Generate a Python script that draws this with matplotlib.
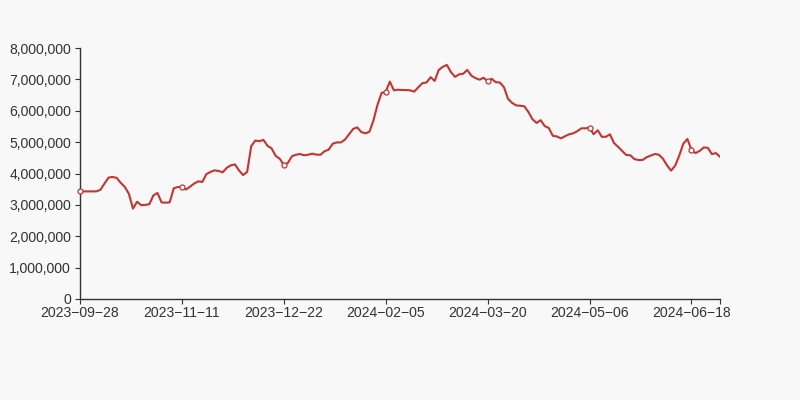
import matplotlib
matplotlib.use("Agg")
import matplotlib.pyplot as plt
import numpy as np

# daily values (millions)
values_m = [
    3.43, 3.43, 3.43, 3.43, 3.43, 3.48, 3.68, 3.87, 3.89, 3.86,
    3.70, 3.57, 3.35, 2.88, 3.10, 2.99, 3.00, 3.02, 3.30, 3.38,
    3.08, 3.07, 3.08, 3.53, 3.57, 3.57, 3.49, 3.58, 3.68, 3.75,
    3.73, 3.98, 4.05, 4.10, 4.08, 4.04, 4.18, 4.26, 4.29, 4.10,
    3.95, 4.05, 4.87, 5.05, 5.03, 5.07, 4.88, 4.80, 4.56, 4.47,
    4.27, 4.34, 4.55, 4.60, 4.62, 4.58, 4.60, 4.63, 4.60, 4.60,
    4.71, 4.76, 4.95, 4.99, 4.99, 5.08, 5.25, 5.42, 5.47, 5.32,
    5.28, 5.33, 5.70, 6.20, 6.57, 6.60, 6.93, 6.65, 6.67, 6.66,
    6.66, 6.65, 6.61, 6.75, 6.88, 6.90, 7.07, 6.95, 7.30, 7.40,
    7.46, 7.23, 7.08, 7.16, 7.18, 7.30, 7.12, 7.04, 6.99, 7.05,
    6.95, 7.02, 6.91, 6.90, 6.75, 6.38, 6.25, 6.17, 6.16, 6.14,
    5.96, 5.73, 5.61, 5.70, 5.51, 5.45, 5.20, 5.18, 5.12, 5.19,
    5.25, 5.28, 5.35, 5.44, 5.44, 5.46, 5.25, 5.38, 5.17, 5.17,
    5.25, 4.97, 4.85, 4.72, 4.59, 4.58, 4.46, 4.43, 4.43, 4.52,
    4.57, 4.62, 4.60, 4.47, 4.26, 4.09, 4.25, 4.57, 4.95, 5.10,
    4.75, 4.65, 4.72, 4.83, 4.82, 4.62, 4.65, 4.53,
]
tick_labels = ["2023-09-28", "2023-11-11", "2023-12-22", "2024-02-05",
               "2024-03-20", "2024-05-06", "2024-06-18"]
label_step = 25
y_ticks = [0, 1e6, 2e6, 3e6, 4e6, 5e6, 6e6, 7e6, 8e6]

C_LINE = "#c23531"
C_AXIS = "#333333"
C_BG = "#f8f8f8"

plt.rcParams["font.family"] = ["Liberation Sans", "DejaVu Sans"]

vals = np.array(values_m) * 1e6
x = np.arange(len(vals))

fig = plt.figure(figsize=(8, 4), dpi=100, facecolor=C_BG)
ax = fig.add_axes([0.1, 0.2525, 0.8, 0.6275], facecolor=C_BG)

ax.plot(x, vals, color=C_LINE, linewidth=1.5, solid_joinstyle="round",
        solid_capstyle="round", zorder=3)
mk = x[::label_step]
ax.plot(mk, vals[mk], linestyle="none", marker="o", markersize=3.6,
        markerfacecolor="white", markeredgecolor=C_LINE, markeredgewidth=0.9,
        zorder=5, clip_on=False)

ax.set_xlim(0, len(vals) - 1)
ax.set_ylim(0, 8e6)

xt = list(mk) + [len(vals) - 1]
ax.set_xticks(xt)
ax.set_xticklabels([t.replace("-", "\u2212") for t in tick_labels] + [""])
ax.set_yticks(y_ticks)
ax.set_yticklabels([f"{int(v):,}" for v in y_ticks])

for s in ("top", "right"):
    ax.spines[s].set_visible(False)
for s in ("left", "bottom"):
    ax.spines[s].set_color(C_AXIS)
    ax.spines[s].set_linewidth(1)

ax.tick_params(axis="both", direction="out", length=3.6, width=0.8,
               color=C_AXIS, labelcolor=C_AXIS, labelsize=10.1)
ax.tick_params(axis="y", pad=2.8)
ax.tick_params(axis="x", pad=1.5)

fig.savefig("out.png", dpi=100, facecolor=C_BG)
